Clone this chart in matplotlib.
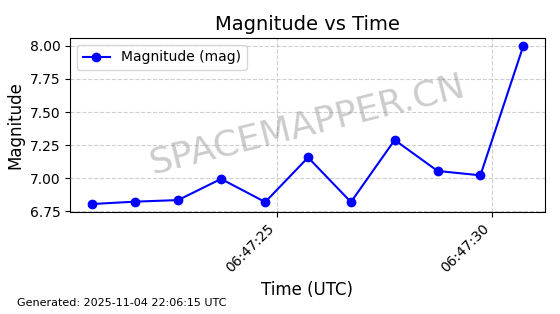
import pandas as pd
import matplotlib
matplotlib.use("Agg")
import matplotlib.pyplot as plt
import matplotlib.dates as mdates

times = ["2025-11-04 06:47:20.67", "2025-11-04 06:47:21.68", "2025-11-04 06:47:22.69",
         "2025-11-04 06:47:23.69", "2025-11-04 06:47:24.72", "2025-11-04 06:47:25.72",
         "2025-11-04 06:47:26.72", "2025-11-04 06:47:27.74", "2025-11-04 06:47:28.74",
         "2025-11-04 06:47:29.74", "2025-11-04 06:47:30.74"]
magnitudes = [6.805, 6.823, 6.835, 6.995, 6.82, 7.157, 6.82, 7.289, 7.055, 7.022, 8.00]
generated = "Generated: 2025-11-04 22:06:15 UTC"

t = pd.to_datetime(times)

fig, ax = plt.subplots(figsize=(5.6, 3.14), dpi=100)
fig.subplots_adjust(left=0.125, right=0.973, top=0.879, bottom=0.325)

ax.plot(t, magnitudes, marker="o", linestyle="-", color="blue", label="Magnitude (mag)")
ax.set_title("Magnitude vs Time", fontsize=14)
ax.set_xlabel("Time (UTC)", fontsize=12)
ax.set_ylabel("Magnitude", fontsize=12)
ax.xaxis.set_major_locator(mdates.SecondLocator(bysecond=range(0, 60, 5)))
ax.xaxis.set_major_formatter(mdates.DateFormatter("%H:%M:%S"))
plt.setp(ax.get_xticklabels(), rotation=45, ha="right")
ax.grid(True, linestyle="--", alpha=0.6)
ax.legend(loc="upper left")

# watermark
ax.text(0.5, 0.5, "SPACEMAPPER.CN", transform=ax.transAxes, fontsize=26,
        color="gray", alpha=0.4, rotation=14, ha="center", va="center")

fig.text(0.03, 0.025, generated, fontsize=8)

fig.savefig("out.png", dpi=100)
